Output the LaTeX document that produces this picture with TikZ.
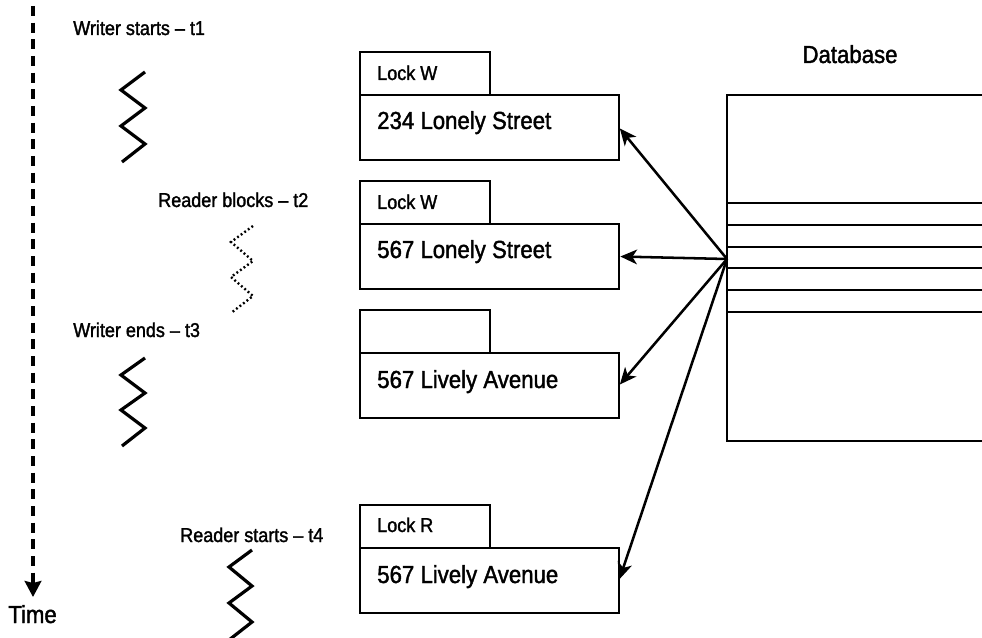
\documentclass[tikz,border=0pt]{standalone}
\usepackage{fontspec}
\setmainfont{Liberation Sans}[FakeStretch=0.9, FakeBold=1.6]
\usetikzlibrary{arrows.meta,calc}
\begin{document}
\begin{tikzpicture}[x=0.75pt,y=-0.75pt,
  small/.style={font=\fontsize{15pt}{17pt}\selectfont, inner sep=0pt, anchor=base west},
  big/.style={font=\fontsize{18.5pt}{21pt}\selectfont, inner sep=0pt, anchor=base west},
  mainbox/.style={draw, line width=1.7pt, inner sep=0pt, outer sep=0pt,
    minimum width=194.25pt, minimum height=48.75pt, anchor=north west},
  tabbox/.style={draw, line width=1.7pt, inner sep=0pt, outer sep=0pt,
    minimum width=97.5pt, minimum height=32.25pt, anchor=south west},
  conn/.style={line width=1.9pt, -{Stealth[length=12.5pt,width=11pt,inset=3.5pt]}, shorten >=1pt},
  zig/.style={line width=2.4pt, line join=miter},
  dotzig/.style={line width=1.8pt, dash pattern=on 1.4pt off 1.9pt},
  timeline/.style={line width=2.4pt, dash pattern=on 7.5pt off 5pt,
    -{Stealth[length=12pt,width=12.5pt,inset=1.5pt]}},
  dbline/.style={line width=1.4pt}
]
\useasboundingbox (0,0) rectangle (982,638);

% time axis
\coordinate (ttop) at (33,6);
\coordinate (tend) at (33,597);
\draw[timeline] (ttop) -- (tend);
\node[big] (time) at (8,623) {Time};

% events along the time axis
\node[small] (e1) at (73,35) {Writer starts -- t1};
\draw[zig] (145,72) -- (121,90) -- (145,108) -- (121,126) -- (145,144) -- (122,162);

\node[small] (e2) at (158,207) {Reader blocks -- t2};
\draw[dotzig] (253,226) -- (231,242) -- (253,261) -- (231,277) -- (253,296) -- (231,313);

\node[small] (e3) at (73,337) {Writer ends -- t3};
\draw[zig] (145,358) -- (121,375) -- (145,393) -- (121,410) -- (145,428) -- (122,446);

\node[small] (e4) at (180,542) {Reader starts -- t4};
\draw[zig] (252,550) -- (229,567) -- (252,586) -- (229,603) -- (252,622) -- (229,640);

% record boxes with their lock tabs
\node[mainbox] (m1) at (360,95) {};
\node[tabbox] (k1) at (m1.north west) {};
\node[small] (k1t) at ($(k1.north west)+(17,28)$) {Lock W};
\node[big] (m1t) at ($(m1.north west)+(17,34)$) {234 Lonely Street};

\node[mainbox] (m2) at (360,224) {};
\node[tabbox] (k2) at (m2.north west) {};
\node[small] (k2t) at ($(k2.north west)+(17,28)$) {Lock W};
\node[big] (m2t) at ($(m2.north west)+(17,34)$) {567 Lonely Street};

\node[mainbox] (m3) at (360,353) {};
\node[tabbox] (k3) at (m3.north west) {};
\node[big] (m3t) at ($(m3.north west)+(17,35)$) {567 Lively Avenue};

\node[mainbox] (m4) at (360,548) {};
\node[tabbox] (k4) at (m4.north west) {};
\node[small] (k4t) at ($(k4.north west)+(17,27)$) {Lock R};
\node[big] (m4t) at ($(m4.north west)+(17,35)$) {567 Lively Avenue};

% database table, open towards the right
\node[big, anchor=base] (dbt) at (850,63) {Database};
\draw[dbline] (982,95) -- (727,95) -- (727,441) -- (982,441);
\foreach \yy in {203,225,247,268,290,312}
  \draw[dbline] (727,\yy) -- (982,\yy);
\coordinate (src) at (727,259);

% reads from the database rows
\draw[conn] (src) -- (m1.east);
\draw[conn] (src) -- (m2.east);
\draw[conn] (src) -- (m3.east);
\draw[conn] (src) -- (m4.east);
\end{tikzpicture}
\end{document}
